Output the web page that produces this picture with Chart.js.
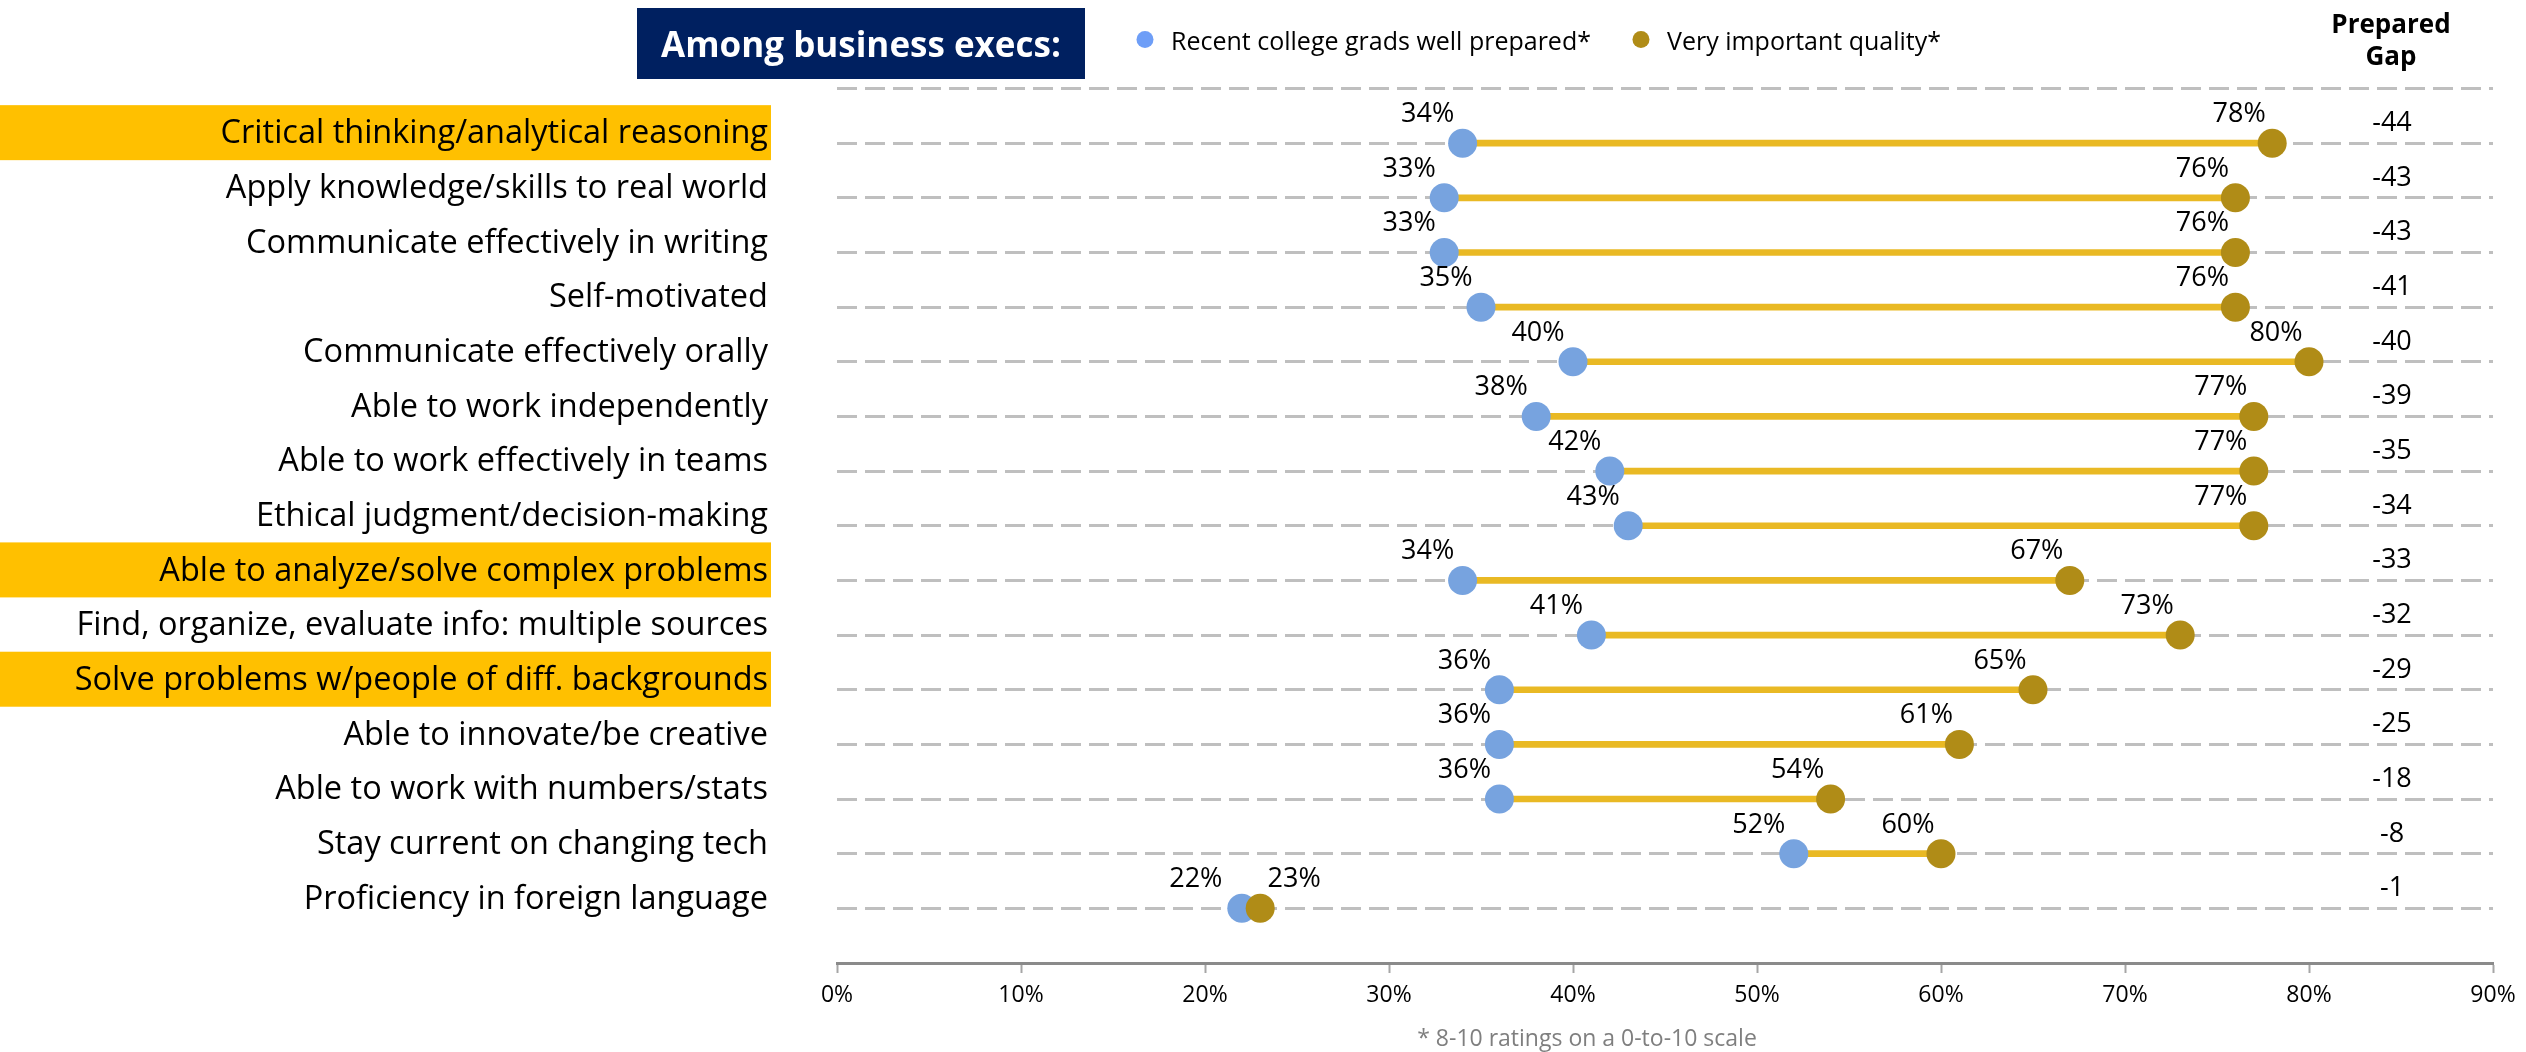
<!DOCTYPE html>
<html>
<head>
<meta charset="utf-8">
<script src="https://cdn.jsdelivr.net/npm/chart.js@4.4.1/dist/chart.umd.min.js"></script>
<style>
html,body{margin:0;padding:0;background:#fff;overflow:hidden}
canvas{display:block}
</style>
</head>
<body>
<canvas id="c" width="2526" height="1052"></canvas>
<script>
// ---------------- data ----------------
const categories = [
  'Critical thinking/analytical reasoning',
  'Apply knowledge/skills to real world',
  'Communicate effectively in writing',
  'Self-motivated',
  'Communicate effectively orally',
  'Able to work independently',
  'Able to work effectively in teams',
  'Ethical judgment/decision-making',
  'Able to analyze/solve complex problems',
  'Find, organize, evaluate info: multiple sources',
  'Solve problems w/people of diff. backgrounds',
  'Able to innovate/be creative',
  'Able to work with numbers/stats',
  'Stay current on changing tech',
  'Proficiency in foreign language'
];
const prepared  = [34, 33, 33, 35, 40, 38, 42, 43, 34, 41, 36, 36, 36, 52, 22];
const important = [78, 76, 76, 76, 80, 77, 77, 77, 67, 73, 65, 61, 54, 60, 23];
const gap       = [-44, -43, -43, -41, -40, -39, -35, -34, -33, -32, -29, -25, -18, -8, -1];
const highlighted = [
  'Critical thinking/analytical reasoning',
  'Able to analyze/solve complex problems',
  'Solve problems w/people of diff. backgrounds'
];
const xTicks = [0, 10, 20, 30, 40, 50, 60, 70, 80, 90];
const seriesNames = ['Recent college grads well prepared*', 'Very important quality*'];
const titleText = 'Among business execs:';
const gapHeader = ['Prepared', 'Gap'];
const footnote = '* 8-10 ratings on a 0-to-10 scale';

// ---------------- styles ----------------
const FONT = "'Open Sans', 'Noto Sans', sans-serif";
const BLUE = '#77a3df';
const GOLD = '#b08c17';
const LINK = '#e9b924';
const HILITE = '#ffc000';
const NAVY = '#002060';
const GRID = '#bfbfbf';

const n = categories.length;
const pos = i => n - i;   // row position on the linear y scale

const overlayPlugin = {
  id: 'overlay',
  beforeDraw(chart) {
    const ctx = chart.ctx;
    const y = chart.scales.y;
    ctx.save();
    // highlighted row labels
    ctx.fillStyle = HILITE;
    categories.forEach((c, i) => {
      if (highlighted.includes(c)) {
        const py = y.getPixelForValue(pos(i));
        ctx.fillRect(0, py - 38, 771, 55);
      }
    });
    // title box
    ctx.fillStyle = NAVY;
    ctx.fillRect(637, 8, 448, 71);
    ctx.fillStyle = '#ffffff';
    ctx.font = `bold 35px ${FONT}`;
    ctx.textAlign = 'center';
    ctx.textBaseline = 'alphabetic';
    ctx.fillText(titleText, 861, 57);
    // legend
    ctx.font = `25px ${FONT}`;
    ctx.textAlign = 'left';
    const legendColors = ['#6e9ef7', GOLD];
    let lx = 1145;
    seriesNames.forEach((s, k) => {
      ctx.fillStyle = legendColors[k];
      ctx.beginPath();
      ctx.arc(lx, 39.5, 8.5, 0, Math.PI * 2);
      ctx.fill();
      ctx.fillStyle = '#000';
      ctx.fillText(s, lx + 26, 50);
      lx = lx + 26 + ctx.measureText(s).width + 50;
    });
    // gap header
    ctx.font = `bold 26px ${FONT}`;
    ctx.textAlign = 'center';
    ctx.fillText(gapHeader[0], 2391, 33);
    ctx.fillText(gapHeader[1], 2391, 65);
    // footnote
    ctx.fillStyle = '#7f7f7f';
    ctx.font = `23px ${FONT}`;
    ctx.fillText(footnote, 1587, 1046);
    ctx.restore();
  },
  afterDatasetsDraw(chart) {
    const ctx = chart.ctx;
    const y = chart.scales.y;
    ctx.save();
    ctx.font = `27px ${FONT}`;
    ctx.fillStyle = '#000';
    ctx.textAlign = 'center';
    ctx.textBaseline = 'alphabetic';
    const blueMeta = chart.getDatasetMeta(1);
    const goldMeta = chart.getDatasetMeta(2);
    categories.forEach((c, i) => {
      const close = Math.abs(important[i] - prepared[i]) < 5;
      const b = blueMeta.data[i];
      const g = goldMeta.data[i];
      ctx.fillText(prepared[i] + '%', b.x + (close ? -46 : -35), b.y - 21);
      ctx.fillText(important[i] + '%', g.x + (close ? 34 : -33), g.y - 21);
      const py = y.getPixelForValue(pos(i));
      ctx.fillText(String(gap[i]), 2392, py - 12);
    });
    ctx.restore();
  }
};

new Chart(document.getElementById('c'), {
  type: 'scatter',
  data: {
    datasets: [
      {
        type: 'bar',
        label: 'gap',
        indexAxis: 'y',
        data: categories.map((c, i) => ({ x: [prepared[i], important[i]], y: pos(i) })),
        backgroundColor: LINK,
        barThickness: 6,
        borderSkipped: false,
        order: 3
      },
      {
        label: seriesNames[0],
        data: categories.map((c, i) => ({ x: prepared[i], y: pos(i) })),
        backgroundColor: BLUE,
        borderWidth: 0,
        pointRadius: 14.5,
        pointHoverRadius: 14.5,
        order: 2
      },
      {
        label: seriesNames[1],
        data: categories.map((c, i) => ({ x: important[i], y: pos(i) })),
        backgroundColor: GOLD,
        borderWidth: 0,
        pointRadius: 14.5,
        pointHoverRadius: 14.5,
        order: 1
      }
    ]
  },
  options: {
    responsive: false,
    animation: false,
    devicePixelRatio: 1,
    clip: false,
    layout: { padding: { top: 79, right: 33, bottom: 0, left: 0 } },
    plugins: {
      legend: { display: false },
      tooltip: { enabled: false },
      title: { display: false }
    },
    scales: {
      x: {
        type: 'linear',
        position: 'bottom',
        min: 0,
        max: 90,
        offset: false,
        afterBuildTicks: s => { s.ticks = xTicks.map(v => ({ value: v })); },
        afterFit: s => { s.height = 89; },
        ticks: {
          callback: v => v + '%',
          font: { family: FONT, size: 23 },
          color: '#000',
          padding: 9,
          maxRotation: 0,
          autoSkip: false
        },
        grid: {
          offset: false,
          drawOnChartArea: false,
          drawTicks: true,
          tickLength: 10,
          tickColor: '#a6a6a6',
          tickWidth: 2
        },
        border: { display: true, color: '#8a8a8a', width: 3 }
      },
      y: {
        type: 'linear',
        position: 'left',
        min: 0,
        max: n + 1,
        offset: false,
        afterBuildTicks: s => {
          const t = [];
          for (let v = 0; v <= n + 1; v++) t.push({ value: v });
          s.ticks = t;
        },
        afterFit: s => { s.width = 837; },
        ticks: {
          callback: v => (v >= 1 && v <= n) ? categories[n - v] : '',
          font: { family: FONT, size: 32.5 },
          color: '#000',
          padding: 69,
          labelOffset: -9,
          autoSkip: false
        },
        grid: {
          offset: false,
          drawTicks: false,
          color: c => (c.tick && c.tick.value === 0) ? 'rgba(0,0,0,0)' : GRID,
          lineWidth: 3
        },
        border: { display: false, dash: [20, 8] }
      }
    }
  },
  plugins: [overlayPlugin]
});
</script>
</body>
</html>
